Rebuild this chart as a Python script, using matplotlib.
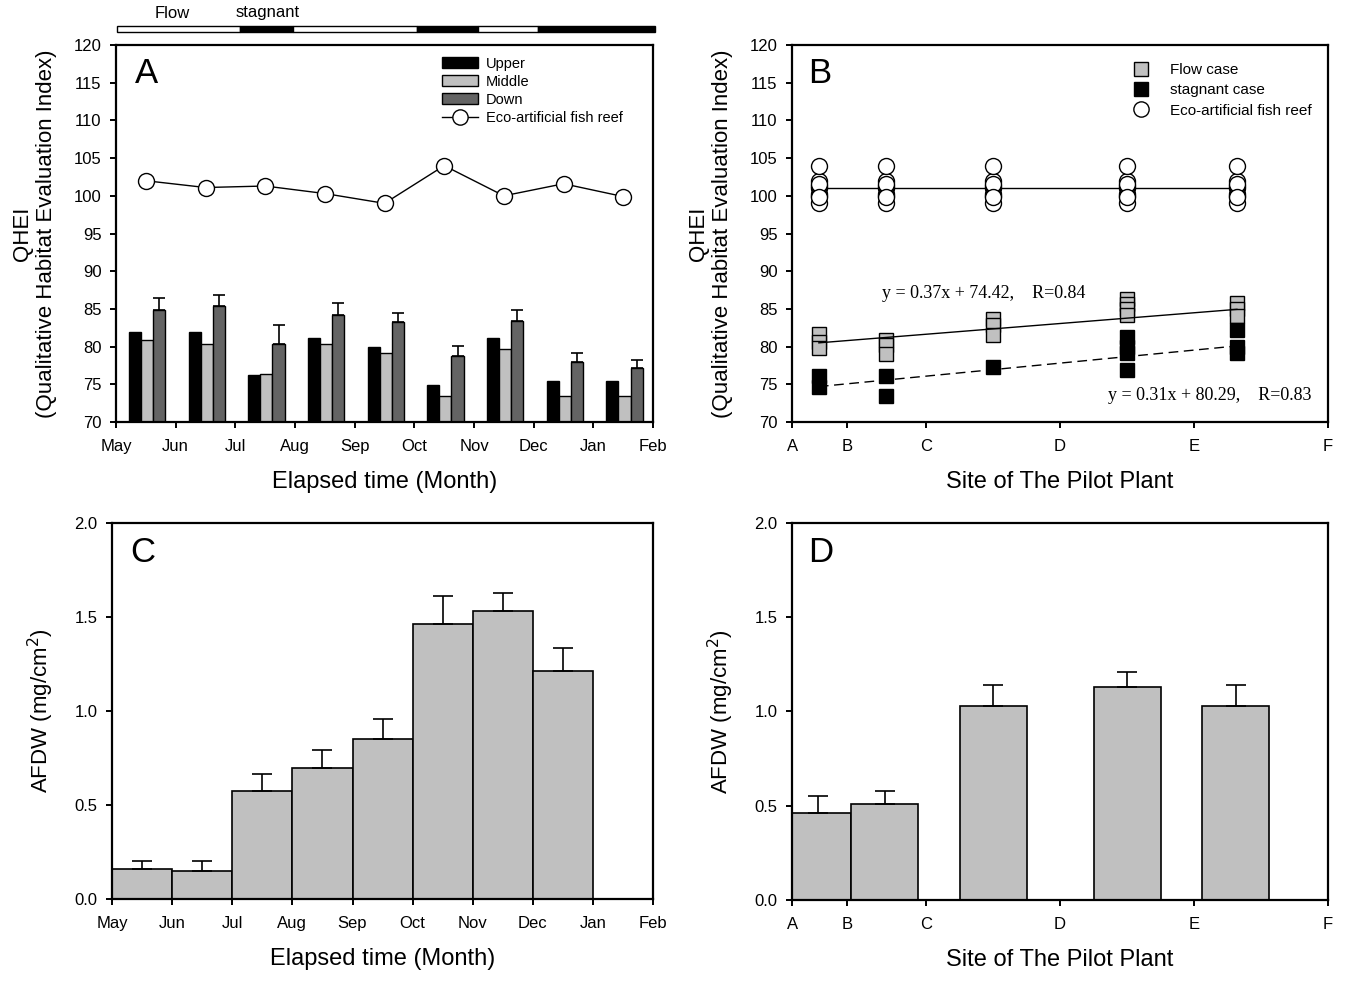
import numpy as np
import matplotlib.pyplot as plt
from matplotlib.patches import Patch
from matplotlib.lines import Line2D

plt.rcParams['font.family'] = ['Liberation Sans', 'DejaVu Sans']

# ---- panel A data (QHEI by month, upper / middle / down) ----
months = ['May', 'Jun', 'Jul', 'Aug', 'Sep', 'Oct', 'Nov', 'Dec', 'Jan', 'Feb']
upper = [82.0, 82.0, 76.3, 81.2, 79.9, 74.9, 81.2, 75.5, 75.5]
middle = [80.9, 80.4, 76.4, 80.4, 79.2, 73.5, 79.7, 73.5, 73.5]
down = [84.8, 85.4, 80.3, 84.2, 83.2, 78.8, 83.4, 77.9, 77.1]
down_err = [1.6, 1.4, 2.5, 1.6, 1.2, 1.3, 1.5, 1.2, 1.1]
reef = [102.0, 101.1, 101.3, 100.3, 99.0, 104.0, 100.0, 101.6, 99.9]

# flow / stagnant periods (month units from May)
period_edges = [0.02, 2.08, 2.97, 5.04, 6.06, 7.08, 9.04]
period_state = ['flow', 'stag', 'flow', 'stag', 'flow', 'stag']

# ---- panel B data (QHEI by site) ----
site_ticks = [0, 0.41, 1, 2, 3, 4]
site_labels = ['A', 'B', 'C', 'D', 'E', 'F']
site_x = [0.2, 0.7, 1.5, 2.5, 3.32]
flow_vals = [[81.7, 80.6, 79.8], [80.9, 80.2, 79.0], [83.7, 82.8, 81.6],
             [86.3, 85.6, 85.0, 84.2], [85.8, 85.0, 84.0]]
stag_vals = [[76.1, 74.7], [76.1, 73.4], [77.3],
             [81.3, 80.0, 79.2, 76.9], [82.2, 80.0, 79.2]]
flow_fit = (1.424, 80.215)   # slope, intercept in plot units
stag_fit = (1.727, 74.355)

# ---- panel C data (AFDW by month) ----
afdw_month = [0.16, 0.15, 0.575, 0.695, 0.85, 1.46, 1.53, 1.21, 0.0]
afdw_month_err = [0.04, 0.05, 0.09, 0.095, 0.105, 0.15, 0.10, 0.125, 0.0]

# ---- panel D data (AFDW by site) ----
afdw_site_x = [0.19, 0.69, 1.5, 2.5, 3.31]
afdw_site = [0.46, 0.51, 1.03, 1.13, 1.03]
afdw_site_err = [0.09, 0.07, 0.11, 0.08, 0.11]

LG = '#c0c0c0'
DG = '#646464'
qhei_label = 'QHEI\n(Qualitative Habitat Evaluation Index)'
afdw_label = 'AFDW (mg/cm$^2$)'

fig = plt.figure(figsize=(13.6, 9.83), dpi=100)
axA = fig.add_axes([0.0853, 0.5707, 0.3949, 0.3835])
axB = fig.add_axes([0.5824, 0.5707, 0.3941, 0.3835])
axC = fig.add_axes([0.0824, 0.0855, 0.3978, 0.3825])
axD = fig.add_axes([0.5824, 0.0845, 0.3941, 0.3835])


def style(ax):
    for s in ax.spines.values():
        s.set_linewidth(1.6)
    ax.tick_params(direction='out', length=4.5, width=1.4, labelsize=12)
    ax.tick_params(axis='x', pad=8)
    ax.tick_params(axis='y', pad=6)


# ---------- A ----------
x = np.arange(9)
w = 0.203
axA.bar(x + 0.216, upper, w, align='edge', color='black', edgecolor='black', lw=1)
axA.bar(x + 0.216 + w, middle, w, align='edge', color=LG, edgecolor='black', lw=1)
axA.bar(x + 0.216 + 2 * w, down, w, align='edge', color=DG, edgecolor='black', lw=1)
axA.errorbar(x + 0.216 + 2.5 * w, down, yerr=[np.zeros(9), down_err], fmt='none',
             ecolor='black', elinewidth=1.2, capsize=4.5, capthick=1.2)
axA.plot(x + 0.5, reef, '-', color='black', lw=1, marker='o', ms=11.5,
         mfc='white', mec='black', mew=1)
axA.set_xlim(0, 9)
axA.set_ylim(70, 120)
axA.set_xticks(np.arange(10))
axA.set_xticklabels(months)
axA.set_yticks(np.arange(70, 121, 5))
axA.set_xlabel('Elapsed time (Month)', fontsize=17, labelpad=12)
axA.set_ylabel(qhei_label, fontsize=16, labelpad=12)
axA.text(0.035, 0.969, 'A', transform=axA.transAxes, fontsize=25, va='top')
handlesA = [Patch(facecolor='black', edgecolor='black'),
            Patch(facecolor=LG, edgecolor='black'),
            Patch(facecolor=DG, edgecolor='black'),
            Line2D([], [], color='black', lw=1, marker='o', ms=11, mfc='white', mec='black')]
axA.legend(handlesA, ['Upper', 'Middle', 'Down', 'Eco-artificial fish reef'],
           loc='upper left', bbox_to_anchor=(0.585, 1.0), frameon=False, fontsize=10.5,
           handlelength=2.5, handleheight=0.75, labelspacing=0.28, handletextpad=0.5,
           borderaxespad=0.4)
style(axA)

# flow / stagnant bar above A
axT = fig.add_axes([0.0853, 0.9674, 0.3949, 0.0061])
for i, st in enumerate(period_state):
    axT.barh(0, period_edges[i + 1] - period_edges[i], left=period_edges[i], height=1,
             color='white' if st == 'flow' else 'black', edgecolor='black', lw=1,
             clip_on=False)
axT.set_xlim(0, 9)
axT.set_ylim(-0.5, 0.5)
axT.axis('off')
fig.text(172 / 1360, 1 - 13 / 983, 'Flow', fontsize=12, ha='center', va='center')
fig.text(268 / 1360, 1 - 13 / 983, 'stagnant', fontsize=12, ha='center', va='center')

# ---------- B ----------
for sx in site_x:
    axB.plot([sx] * len(reef), reef, 'o', ms=11.5, mfc='white', mec='black', mew=1,
             zorder=3)
reef_mean = np.mean(reef)
axB.plot([site_x[0], site_x[-1]], [reef_mean, reef_mean], '-', color='black', lw=1, zorder=2)
for sx, vals in zip(site_x, flow_vals):
    axB.plot([sx] * len(vals), vals, 's', ms=10, mfc=LG, mec='black', mew=1, zorder=3)
for sx, vals in zip(site_x, stag_vals):
    axB.plot([sx] * len(vals), vals, 's', ms=10, mfc='black', mec='black', mew=1, zorder=3)
fx = np.array([site_x[0], site_x[-1]])
axB.plot(fx, flow_fit[0] * fx + flow_fit[1], '-', color='black', lw=1, zorder=4)
axB.plot(fx, stag_fit[0] * fx + stag_fit[1], '--', color='black', lw=1, dashes=(7, 4), zorder=4)
axB.text(0.67, 87.1, 'y = 0.37x + 74.42,    R=0.84', family='Liberation Serif', fontsize=13,
         va='center')
axB.text(2.36, 73.45, 'y = 0.31x + 80.29,    R=0.83', family='Liberation Serif', fontsize=13,
         va='center')
axB.set_xlim(0, 4)
axB.set_ylim(70, 120)
axB.set_xticks(site_ticks)
axB.set_xticklabels(site_labels)
axB.set_yticks(np.arange(70, 121, 5))
axB.set_xlabel('Site of The Pilot Plant', fontsize=17, labelpad=12)
axB.set_ylabel(qhei_label, fontsize=16, labelpad=12)
axB.text(0.03, 0.969, 'B', transform=axB.transAxes, fontsize=25, va='top')
handlesB = [Line2D([], [], ls='', marker='s', ms=10.5, mfc=LG, mec='black'),
            Line2D([], [], ls='', marker='s', ms=10.5, mfc='black', mec='black'),
            Line2D([], [], ls='', marker='o', ms=11, mfc='white', mec='black')]
axB.legend(handlesB, ['Flow case', 'stagnant case', 'Eco-artificial fish reef'],
           loc='upper left', bbox_to_anchor=(0.6, 0.985), frameon=False, fontsize=11,
           handlelength=2.0, labelspacing=0.42, handletextpad=0.9, borderaxespad=0.4)
style(axB)

# ---------- C ----------
xc = np.arange(9) + 0.5
axC.bar(xc, afdw_month, 1.0, color=LG, edgecolor='black', lw=1.2)
axC.errorbar(xc[:8], afdw_month[:8], yerr=[np.zeros(8), afdw_month_err[:8]], fmt='none',
             ecolor='black', elinewidth=1.2, capsize=7, capthick=1.2)
axC.set_xlim(0, 9)
axC.set_ylim(0, 2.0)
axC.set_xticks(np.arange(10))
axC.set_xticklabels(months)
axC.set_yticks([0, 0.5, 1.0, 1.5, 2.0])
axC.set_yticklabels(['0.0', '0.5', '1.0', '1.5', '2.0'])
axC.set_xlabel('Elapsed time (Month)', fontsize=17, labelpad=12)
axC.set_ylabel(afdw_label, fontsize=16, labelpad=13)
axC.text(0.033, 0.965, 'C', transform=axC.transAxes, fontsize=25, va='top')
style(axC)

# ---------- D ----------
axD.bar(afdw_site_x, afdw_site, 0.5, color=LG, edgecolor='black', lw=1.2)
axD.errorbar(afdw_site_x, afdw_site, yerr=[np.zeros(5), afdw_site_err], fmt='none',
             ecolor='black', elinewidth=1.2, capsize=7, capthick=1.2)
axD.set_xlim(0, 4)
axD.set_ylim(0, 2.0)
axD.set_xticks(site_ticks)
axD.set_xticklabels(site_labels)
axD.set_yticks([0, 0.5, 1.0, 1.5, 2.0])
axD.set_yticklabels(['0.0', '0.5', '1.0', '1.5', '2.0'])
axD.set_xlabel('Site of The Pilot Plant', fontsize=17, labelpad=12)
axD.set_ylabel(afdw_label, fontsize=16, labelpad=13)
axD.text(0.03, 0.965, 'D', transform=axD.transAxes, fontsize=25, va='top')
style(axD)

fig.savefig('out.png', dpi=100)
